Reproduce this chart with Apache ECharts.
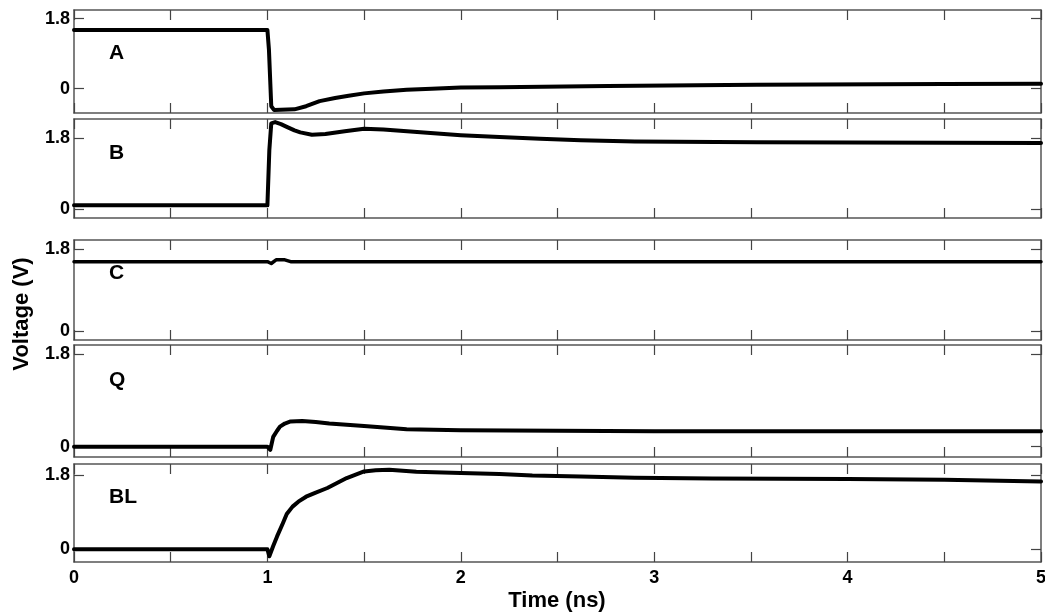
<!DOCTYPE html>
<html>
<head>
<meta charset="utf-8">
<script src="https://cdn.jsdelivr.net/npm/echarts@6/dist/echarts.min.js"></script>
<style>
html,body{margin:0;padding:0;background:#fff;}
#chart{width:1045px;height:614px;}
</style>
</head>
<body>
<div id="chart"></div>
<script>
// ---- data ----
const panelNames = ['A', 'B', 'C', 'Q', 'BL'];
const xTickLabels = [0, 1, 2, 3, 4, 5];
const yTickValues = [0, 1.8];

const tA = [0, 1.0, 1.008, 1.02, 1.035, 1.14, 1.2, 1.27, 1.35, 1.42, 1.5, 1.6, 1.72, 1.85, 2.0, 2.2, 2.76, 3.53, 4.5, 5.0];
const vA = [1.51, 1.51, 1.0, -0.45, -0.55, -0.53, -0.45, -0.32, -0.24, -0.18, -0.12, -0.07, -0.03, 0.0, 0.03, 0.04, 0.07, 0.10, 0.12, 0.13];

const tB = [0, 1.0, 1.01, 1.02, 1.04, 1.07, 1.1, 1.14, 1.17, 1.23, 1.3, 1.4, 1.5, 1.6, 2.0, 2.2, 2.41, 2.62, 2.9, 3.53, 4.5, 5.0];
const vB = [0.1, 0.1, 1.5, 2.18, 2.21, 2.16, 2.09, 2.0, 1.95, 1.89, 1.91, 1.98, 2.04, 2.02, 1.88, 1.83, 1.79, 1.75, 1.72, 1.70, 1.69, 1.68];

const tC = [0, 1.0, 1.02, 1.045, 1.09, 1.12, 5.0];
const vC = [1.52, 1.52, 1.48, 1.56, 1.56, 1.52, 1.52];

const tQ = [0, 1.0, 1.015, 1.03, 1.05, 1.065, 1.09, 1.12, 1.18, 1.25, 1.32, 1.5, 1.72, 2.0, 3.0, 5.0];
const vQ = [0, 0, -0.06, 0.19, 0.31, 0.39, 0.45, 0.49, 0.50, 0.48, 0.45, 0.40, 0.34, 0.32, 0.30, 0.30];

const tBL = [0, 1.0, 1.01, 1.03, 1.05, 1.08, 1.1, 1.13, 1.16, 1.2, 1.25, 1.31, 1.36, 1.41, 1.46, 1.5, 1.56, 1.63, 1.77, 2.0, 2.2, 2.37, 2.62, 2.9, 3.3, 4.0, 4.5, 5.0];
const vBL = [0, 0, -0.17, 0.08, 0.31, 0.63, 0.85, 1.03, 1.15, 1.27, 1.37, 1.48, 1.6, 1.72, 1.81, 1.88, 1.91, 1.92, 1.87, 1.84, 1.82, 1.78, 1.76, 1.73, 1.71, 1.70, 1.68, 1.64];

const yMin = [-0.624, -0.22, -0.203, -0.2, -0.308];
const yMax = [2.021, 2.289, 1.997, 1.975, 2.06];

// ---- layout ----
const gridTops = [10, 119, 240, 345, 464];
const gridHeights = [103, 99, 100, 112, 98];
const times = [tA, tB, tC, tQ, tBL];
const volts = [vA, vB, vC, vQ, vBL];
const widths = [4, 4, 3.5, 4, 4];

const FONT = '"Liberation Sans", Arial, sans-serif';
const axisColor = '#555';

const grids = [], xAxes = [], yAxes = [], series = [], graphics = [];
for (let i = 0; i < 5; i++) {
  grids.push({left: 74, right: 4, top: gridTops[i], height: gridHeights[i],
    containLabel: false, outerBoundsMode: 'none'});
  const xBase = {
    gridIndex: i, type: 'value', min: 0, max: 5, interval: 0.5,
    axisLine: {show: true, onZero: false, lineStyle: {color: axisColor, width: 1.5}},
    axisTick: {show: true, inside: true, length: 10, lineStyle: {color: '#444', width: 1.2}},
    splitLine: {show: false}
  };
  xAxes.push(Object.assign({}, xBase, {
    position: 'bottom',
    axisLabel: {show: i === 4, customValues: xTickLabels, margin: 7,
      fontFamily: FONT, fontWeight: 'bold', fontSize: 18, color: '#000'}
  }));
  xAxes.push(Object.assign({}, xBase, {position: 'top', axisLabel: {show: false}}));
  const yBase = {
    gridIndex: i, type: 'value', min: yMin[i], max: yMax[i],
    axisLine: {show: true, onZero: false, lineStyle: {color: axisColor, width: 1.5}},
    axisTick: {show: true, inside: true, length: 10, customValues: yTickValues, lineStyle: {color: '#444', width: 1.2}},
    splitLine: {show: false}
  };
  yAxes.push(Object.assign({}, yBase, {
    position: 'left',
    axisLabel: {show: true, customValues: yTickValues, margin: 4,
      formatter: v => (Math.abs(v) < 1e-9 ? '0' : '1.8'),
      fontFamily: FONT, fontWeight: 'bold', fontSize: 18, color: '#000'}
  }));
  yAxes.push(Object.assign({}, yBase, {position: 'right', axisLabel: {show: false}}));
  series.push({
    type: 'line', xAxisIndex: 2 * i, yAxisIndex: 2 * i,
    data: times[i].map((t, k) => [t, volts[i][k]]),
    showSymbol: false, symbol: 'none', animation: false,
    lineStyle: {color: '#000', width: widths[i], join: 'round', cap: 'round'}
  });
}

const labelY = [55, 155, 275, 382, 499];
panelNames.forEach((n, i) => {
  graphics.push({type: 'text', left: 109, top: labelY[i] - 12,
    style: {text: n, fontFamily: FONT, fontWeight: 'bold', fontSize: 21, fill: '#000'}});
});
graphics.push({type: 'text', x: 22, y: 314, rotation: Math.PI / 2,
  style: {text: 'Voltage (V)', fontFamily: FONT, fontWeight: 'bold', fontSize: 22, fill: '#000',
    align: 'center', verticalAlign: 'middle'}});
graphics.push({type: 'text', x: 557, y: 601,
  style: {text: 'Time (ns)', fontFamily: FONT, fontWeight: 'bold', fontSize: 22, fill: '#000',
    align: 'center', verticalAlign: 'middle'}});

const chart = echarts.init(document.getElementById('chart'), null, {renderer: 'canvas'});
chart.setOption({
  animation: false,
  backgroundColor: '#fff',
  grid: grids, xAxis: xAxes, yAxis: yAxes, series: series, graphic: graphics
});
</script>
</body>
</html>
